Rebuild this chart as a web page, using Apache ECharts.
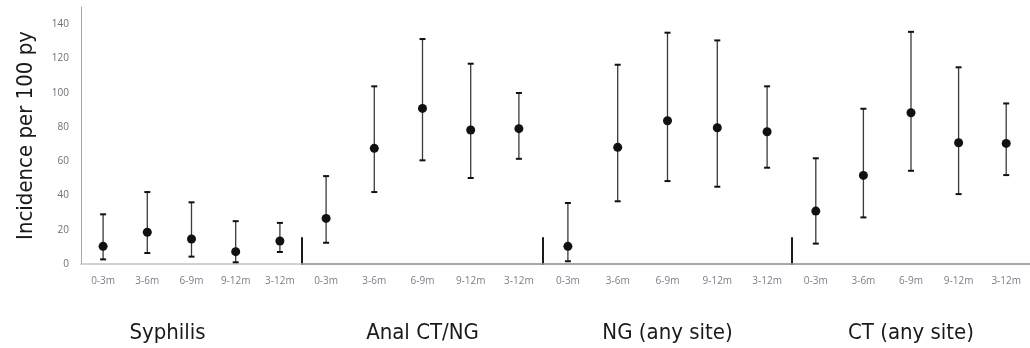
<!DOCTYPE html>
<html>
<head>
<meta charset="utf-8">
<script src="https://cdn.jsdelivr.net/npm/echarts@6/dist/echarts.min.js"></script>
<style>
  html, body { margin: 0; padding: 0; background: #fff; }
  #chart { width: 1030px; height: 348px; }
</style>
</head>
<body>
<div id="chart"></div>
<script>
  /** Data */
  var periods = ['0-3m', '3-6m', '6-9m', '9-12m', '3-12m'];
  var panels = ['Syphilis', 'Anal CT/NG', 'NG (any site)', 'CT (any site)'];

  // point estimate, lower and upper CI per panel
  var syphilisRate = [10.3, 18.5, 14.6, 7.2, 13.4];
  var syphilisLow = [2.7, 6.4, 4.3, 1.0, 7.0];
  var syphilisHigh = [29, 42, 36, 25, 24];

  var analRate = [26.6, 67.5, 90.8, 78.2, 79];
  var analLow = [12.4, 42, 60.5, 50.2, 61.4];
  var analHigh = [51.3, 103.7, 131.3, 116.9, 99.8];

  var ngRate = [10.3, 68.1, 83.6, 79.5, 77.2];
  var ngLow = [1.6, 36.6, 48.4, 45.1, 56.2];
  var ngHigh = [35.6, 116.3, 135, 130.5, 103.7];

  var ctRate = [30.9, 51.7, 88.3, 70.8, 70.4];
  var ctLow = [11.9, 27.2, 54.4, 40.8, 51.9];
  var ctHigh = [61.7, 90.6, 135.5, 114.8, 93.7];

  var yTicks = [0, 20, 40, 60, 80, 100, 120, 140];

  var rates = [syphilisRate, analRate, ngRate, ctRate];
  var lows = [syphilisLow, analLow, ngLow, ctLow];
  var highs = [syphilisHigh, analHigh, ngHigh, ctHigh];

  /** Layout */
  var panelBox = [
    { left: 81, width: 221 },
    { left: 302, width: 241 },
    { left: 543, width: 249 },
    { left: 792, width: 238 }
  ];
  var font = '"Liberation Sans Narrow", "DejaVu Sans Condensed", "Open Sans", sans-serif';

  var grids = [], xAxes = [], yAxes = [], series = [];

  function errorBar(params, api) {
    var x = api.value(0);
    var lo = api.coord([x, api.value(1)]);
    var hi = api.coord([x, api.value(2)]);
    var cap = 3;
    var bar = { stroke: '#3a3a3a', lineWidth: 1.3 };
    var capStyle = { stroke: '#111', lineWidth: 2 };
    return {
      type: 'group',
      children: [
        { type: 'line', shape: { x1: lo[0], y1: lo[1], x2: hi[0], y2: hi[1] }, style: bar },
        { type: 'line', shape: { x1: hi[0] - cap, y1: hi[1], x2: hi[0] + cap, y2: hi[1] }, style: capStyle },
        { type: 'line', shape: { x1: lo[0] - cap, y1: lo[1], x2: lo[0] + cap, y2: lo[1] }, style: capStyle }
      ]
    };
  }

  panels.forEach(function(name, i) {
    grids.push({
      left: panelBox[i].left, width: panelBox[i].width, top: 7, height: 257,
      outerBoundsMode: 'none', containLabel: false
    });
    xAxes.push({
      gridIndex: i,
      type: 'category',
      data: periods,
      boundaryGap: true,
      name: name,
      nameLocation: 'middle',
      nameGap: 58,
      nameTextStyle: {
        fontFamily: font, fontSize: 22, color: '#1a1a1a',
        padding: i === 0 ? [0, 48, 0, 0] : 0
      },
      axisLine: { lineStyle: { color: i === 0 ? '#c4c4c4' : '#8c8c8c', width: 1.5 } },
      axisTick: { show: false },
      axisLabel: { color: '#7a7f8a', fontSize: 10, margin: 12, fontFamily: 'Open Sans, sans-serif' }
    });
    yAxes.push({
      gridIndex: i,
      type: 'value',
      min: 0,
      max: 150,
      interval: 20,
      show: i === 0,
      name: i === 0 ? 'Incidence per 100 py' : '',
      nameLocation: 'middle',
      nameGap: 44,
      nameTextStyle: { fontFamily: font, fontSize: 22, color: '#1a1a1a' },
      axisLine: { show: true, lineStyle: { color: '#a6a6a6', width: 1 } },
      axisTick: { show: false },
      splitLine: { show: false },
      axisLabel: {
        showMaxLabel: false,
        color: '#6a6f7a',
        fontSize: 10,
        margin: 12,
        fontFamily: 'Open Sans, sans-serif',
        formatter: function(v) { return yTicks.indexOf(v) >= 0 ? v : ''; }
      }
    });

    var barData = periods.map(function(p, k) { return [k, lows[i][k], highs[i][k]]; });
    series.push({
      type: 'custom',
      xAxisIndex: i,
      yAxisIndex: i,
      renderItem: errorBar,
      encode: { x: 0, y: [1, 2] },
      data: barData,
      silent: true,
      z: 2
    });
    series.push({
      type: 'scatter',
      xAxisIndex: i,
      yAxisIndex: i,
      symbol: 'circle',
      symbolSize: 9,
      itemStyle: { color: '#111', opacity: 1 },
      data: rates[i],
      z: 3
    });
  });

  // short dividers between panels
  [302, 543, 792].forEach(function(left) {
    var g = grids.length;
    grids.push({ left: left, width: 10, top: 238, height: 26, outerBoundsMode: 'none' });
    xAxes.push({ gridIndex: g, type: 'value', show: false });
    yAxes.push({
      gridIndex: g,
      type: 'value',
      min: 0,
      max: 1,
      axisLine: { show: true, lineStyle: { color: '#1a1a1a', width: 2 } },
      axisTick: { show: false },
      axisLabel: { show: false },
      splitLine: { show: false }
    });
  });

  var option = {
    animation: false,
    backgroundColor: '#ffffff',
    grid: grids,
    xAxis: xAxes,
    yAxis: yAxes,
    series: series
  };

  echarts.init(document.getElementById('chart')).setOption(option);
</script>
</body>
</html>
